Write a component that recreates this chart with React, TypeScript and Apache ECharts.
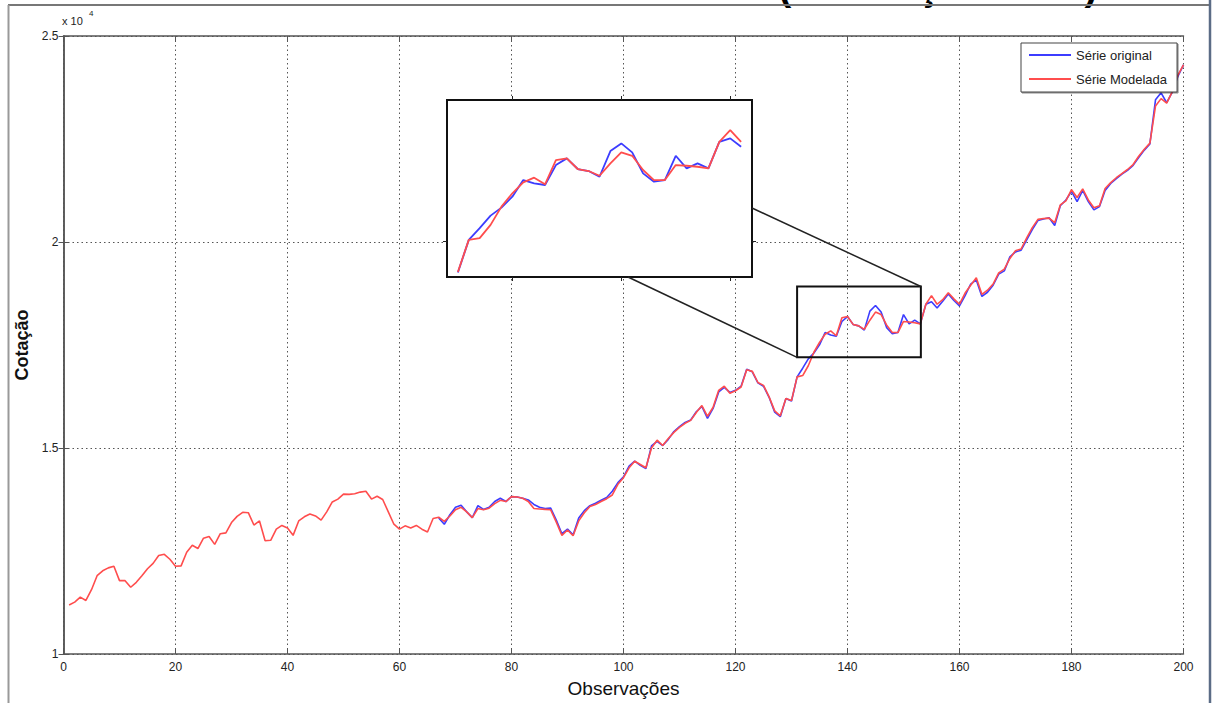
import { useEffect, useRef } from 'react';
import * as echarts from 'echarts';

// x values (observations)
const firstObs = 1;
const originalStart = 67;

// Série Modelada, observations 1..200
const modelada = [
  11190, 11260, 11380, 11300, 11560, 11900, 12020, 12090, 12130, 11780,
  11780, 11620, 11740, 11900, 12070, 12200, 12390, 12420, 12300, 12130,
  12140, 12470, 12640, 12560, 12810, 12850, 12660, 12920, 12940, 13190,
  13340, 13440, 13430, 13130, 13230, 12750, 12760, 13030, 13120, 13060,
  12880, 13230, 13330, 13400, 13350, 13250, 13450, 13690, 13760, 13880,
  13875, 13890, 13930, 13950, 13760, 13830, 13750, 13450, 13150, 13030,
  13110, 13060, 13120, 13030, 12960, 13290, 13320, 13220, 13350, 13500,
  13560, 13450, 13310, 13530, 13500, 13540, 13650, 13730, 13700, 13820,
  13810, 13780, 13700, 13530, 13520, 13510, 13500, 13200, 12880, 13010,
  12870, 13230, 13430, 13580, 13630, 13700, 13770, 13860, 14120, 14280,
  14520, 14680, 14600, 14520, 15000, 15190, 15060, 15230, 15380, 15500,
  15600, 15670, 15860, 16030, 15770, 15990, 16400, 16500, 16330, 16390,
  16480, 16900, 16860, 16590, 16520, 16240, 15900, 15780, 16200, 16150,
  16727, 16758, 16996, 17324, 17564, 17761, 17844, 17725, 18161, 18191,
  18000, 17964, 17879, 18102, 18299, 18238, 17982, 17802, 17802, 18071,
  18059, 18041, 18012, 18489, 18698, 18489, 18600, 18770, 18620, 18490,
  18760, 18950, 19130, 18730, 18830, 18980, 19250, 19340, 19600, 19790,
  19830, 20100, 20350, 20550, 20570, 20580, 20470, 20900, 21000, 21270,
  21080, 21290, 21020, 20830, 20880, 21300, 21440, 21560, 21660, 21760,
  21880, 22080, 22250, 22400, 23300, 23480, 23370, 23650, 24050, 24300,
];

// Série original, observations 67..200
const original = [
  13300, 13150, 13380, 13560, 13610, 13450, 13310, 13600, 13510, 13560,
  13700, 13780, 13700, 13820, 13810, 13780, 13740, 13630, 13560, 13530,
  13540, 13250, 12920, 13030, 12890, 13300, 13480, 13600, 13660, 13730,
  13800, 13950, 14160, 14300, 14560, 14680, 14580, 14500, 15050, 15160,
  15060, 15210, 15400, 15520, 15620, 15680, 15880, 16010, 15720, 15960,
  16360, 16470, 16350, 16400, 16500, 16910, 16850, 16580, 16500, 16230,
  15870, 15760, 16200, 16140, 16727, 16937, 17163, 17306, 17503, 17802,
  17743, 17713, 18071, 18191, 18000, 17964, 17861, 18322, 18460, 18299,
  17922, 17772, 17802, 18238, 18012, 18102, 18012, 18489, 18550, 18399,
  18560, 18740, 18580, 18450, 18700, 18980, 19080, 18680, 18780, 18950,
  19220, 19300, 19640, 19760, 19800, 20050, 20300, 20520, 20560, 20590,
  20400, 20880, 21020, 21230, 20980, 21250, 20980, 20780, 20860, 21250,
  21420, 21540, 21650, 21740, 21860, 22050, 22230, 22380, 23450, 23620,
  23380, 23640, 24020, 24300,
];

// axes
const xTicks = { min: 0, max: 200, interval: 20 };
const yTicks = { min: 10000, max: 25000, interval: 5000 };

// zoomed region
const insetObs = [130, 156];
const insetX = [129, 157];
const insetY = [16060, 19240];
const insetXTicks = [135, 145, 155];
const insetYTicks = [16700];
const selX = [131, 153.1];
const selY = [17200, 18920];

const FONT = "'Liberation Sans', Arial, Helvetica, sans-serif";
const BLUE = '#3c3cff';
const RED = '#ff4d4d';

const modPairs = modelada.map((v, i) => [firstObs + i, v]);
const origPairs = original.map((v, i) => [originalStart + i, v]);
const inRange = (p: number[]) => p[0] >= insetObs[0] && p[0] <= insetObs[1];

const INSET = { left: 447, top: 100, width: 305, height: 177 };

export default function App() {
  const ref = useRef<HTMLDivElement>(null);
  useEffect(() => {
    const chart = echarts.init(ref.current!, null, { renderer: 'svg' });
    const axisLine = { show: true, lineStyle: { color: '#555', width: 1.5 } };
    const tickIn = { show: true, inside: true, length: 5, lineStyle: { color: '#555', width: 1 } };
    const dotted = { show: true, lineStyle: { type: [1.5, 3], color: '#555', width: 1 } };
    const insetTick = (vals: number[]) => ({
      show: true, inside: false, length: 4, customValues: vals, lineStyle: { color: '#222', width: 1 },
    });
    const option: any = {
      animation: false,
      backgroundColor: '#fff',
      textStyle: { fontFamily: FONT },
      legend: {
        data: ['Série original', 'Série Modelada'],
        orient: 'vertical',
        left: 1021,
        top: 43,
        padding: [4, 10, 5, 8],
        itemGap: 8,
        itemWidth: 42,
        itemHeight: 2,
        icon: 'rect',
        backgroundColor: '#fff',
        borderColor: '#444',
        borderWidth: 1,
        shadowColor: 'rgba(0,0,0,0.45)',
        shadowOffsetX: 1,
        shadowOffsetY: 1,
        shadowBlur: 1,
        textStyle: { fontFamily: FONT, fontSize: 13, color: '#222', lineHeight: 16 },
        z: 8,
      },
      grid: [
        { left: 63.5, right: 32.5, top: 36, bottom: 48 },
        { left: INSET.left, top: INSET.top, width: INSET.width, height: INSET.height },
      ],
      xAxis: [
        {
          type: 'value', gridIndex: 0, position: 'bottom', ...xTicks,
          axisLine, axisTick: tickIn, splitLine: dotted,
          axisLabel: { color: '#222', fontSize: 12, margin: 7, fontFamily: FONT },
          name: 'Observações', nameLocation: 'middle', nameGap: 25,
          nameTextStyle: { fontSize: 19, color: '#111', fontFamily: FONT },
        },
        {
          type: 'value', gridIndex: 0, position: 'top', ...xTicks,
          axisLine, axisTick: tickIn, splitLine: { show: false }, axisLabel: { show: false },
        },
        {
          type: 'value', gridIndex: 1, position: 'bottom', min: insetX[0], max: insetX[1],
          axisLine: { show: false }, axisTick: insetTick(insetXTicks), splitLine: { show: false },
          axisLabel: { show: false }, z: 6,
        },
        {
          type: 'value', gridIndex: 1, position: 'top', min: insetX[0], max: insetX[1],
          axisLine: { show: false }, axisTick: insetTick(insetXTicks), splitLine: { show: false },
          axisLabel: { show: false }, z: 6,
        },
      ],
      yAxis: [
        {
          type: 'value', gridIndex: 0, position: 'left', ...yTicks,
          axisLine, axisTick: tickIn, splitLine: dotted,
          axisLabel: { color: '#222', fontSize: 12, margin: 5, fontFamily: FONT, formatter: (v: number) => String(v / 10000) },
          name: 'Cotação', nameLocation: 'middle', nameGap: 31,
          nameTextStyle: { fontSize: 18, fontWeight: 'bold', color: '#111', fontFamily: FONT },
        },
        {
          type: 'value', gridIndex: 0, position: 'right', ...yTicks,
          axisLine, axisTick: tickIn, splitLine: { show: false }, axisLabel: { show: false },
        },
        {
          type: 'value', gridIndex: 1, position: 'left', min: insetY[0], max: insetY[1],
          axisLine: { show: false }, axisTick: insetTick(insetYTicks), splitLine: { show: false },
          axisLabel: { show: false }, z: 6,
        },
        {
          type: 'value', gridIndex: 1, position: 'right', min: insetY[0], max: insetY[1],
          axisLine: { show: false }, axisTick: insetTick(insetYTicks), splitLine: { show: false },
          axisLabel: { show: false }, z: 6,
        },
      ],
      series: [
        {
          name: 'Série original', type: 'line', xAxisIndex: 0, yAxisIndex: 0, data: origPairs,
          symbol: 'none', color: BLUE, lineStyle: { color: BLUE, width: 1.6 }, z: 2,
        },
        {
          name: 'Série Modelada', type: 'line', xAxisIndex: 0, yAxisIndex: 0, data: modPairs,
          symbol: 'none', color: RED, lineStyle: { color: RED, width: 1.6 }, z: 2,
        },
        {
          name: 'Série original', type: 'line', xAxisIndex: 2, yAxisIndex: 2, data: origPairs.filter(inRange),
          symbol: 'none', color: BLUE, lineStyle: { color: BLUE, width: 1.8 }, z: 6,
        },
        {
          name: 'Série Modelada', type: 'line', xAxisIndex: 2, yAxisIndex: 2, data: modPairs.filter(inRange),
          symbol: 'none', color: RED, lineStyle: { color: RED, width: 1.8 }, z: 6,
        },
      ],
    };
    chart.setOption(option);

    const tl = chart.convertToPixel({ gridIndex: 0 } as any, [selX[0], selY[1]]) as number[];
    const br = chart.convertToPixel({ gridIndex: 0 } as any, [selX[1], selY[0]]) as number[];
    const c1 = [INSET.left + INSET.width, INSET.top + 108];
    const c2 = [INSET.left + 181, INSET.top + INSET.height];

    const txt = (text: string, x: number, y: number, size: number, extra: any = {}) => ({
      type: 'text', x, y, z: 20,
      style: {
        text, fontSize: size, fontFamily: FONT, fill: '#222',
        align: 'left', verticalAlign: 'middle', textAlign: 'left', textVerticalAlign: 'middle', ...extra,
      },
    });

    chart.setOption({
      graphic: [
        {
          type: 'rect', z: 4,
          shape: { x: INSET.left, y: INSET.top, width: INSET.width, height: INSET.height },
          style: { fill: '#fff', stroke: '#111', lineWidth: 2 },
        },
        {
          type: 'rect', z: 5,
          shape: { x: tl[0], y: tl[1], width: br[0] - tl[0], height: br[1] - tl[1] },
          style: { fill: 'none', stroke: '#111', lineWidth: 2 },
        },
        {
          type: 'line', z: 5,
          shape: { x1: c1[0], y1: c1[1], x2: br[0], y2: tl[1] },
          style: { stroke: '#222', lineWidth: 1.5 },
        },
        {
          type: 'line', z: 5,
          shape: { x1: c2[0], y1: c2[1], x2: tl[0], y2: br[1] },
          style: { stroke: '#222', lineWidth: 1.5 },
        },
        txt('x 10', 62, 21, 11),
        txt('4', 89, 13, 8),
        txt('(Simulação Final)', 778.6, -14, 38.5, { fontWeight: 'bold', fill: '#000' }),
        {
          type: 'line', z: 21,
          shape: { x1: 8, y1: 5, x2: 1210, y2: 5 },
          style: { stroke: '#777', lineWidth: 2 },
        },
        {
          type: 'line', z: 21,
          shape: { x1: 8.5, y1: 5, x2: 8.5, y2: 703 },
          style: { stroke: '#999', lineWidth: 2 },
        },
        {
          type: 'line', z: 21,
          shape: { x1: 1210, y1: 0, x2: 1210, y2: 703 },
          style: { stroke: '#5b6c86', lineWidth: 2.5 },
        },
      ],
    });
    return () => chart.dispose();
  }, []);
  return (
    <div
      ref={ref}
      style={{ position: 'fixed', left: 0, top: 0, width: 1216, height: 703, background: '#fff' }}
    />
  );
}
